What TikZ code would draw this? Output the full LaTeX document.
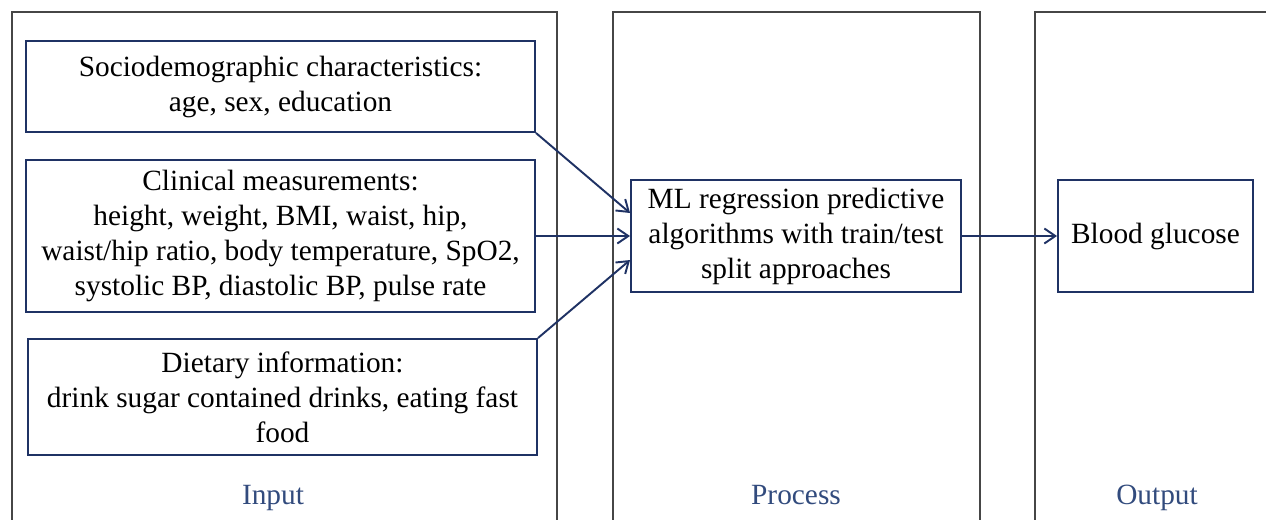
\documentclass[tikz,border=0pt]{standalone}
\usepackage{fontspec}
\setmainfont{Liberation Serif}
\usetikzlibrary{positioning, arrows.meta, calc}
\definecolor{boxblue}{RGB}{31, 50, 100}
\definecolor{labelblue}{RGB}{50, 75, 125}
\definecolor{panelgray}{RGB}{70, 70, 70}

\begin{document}
\begin{tikzpicture}[
    box/.style={draw=boxblue, line width=1.1pt, align=center, inner sep=0pt,
        font=\fontsize{16.7}{19.9}\selectfont},
    link/.style={draw=boxblue, line width=1.1pt, -{Straight Barb[length=2.2mm, width=3mm]}},
    panel/.style={draw=panelgray, line width=0.6pt},
    stage/.style={font=\fontsize{16.7}{19}\selectfont, text=labelblue, anchor=base}
]

                \useasboundingbox (0, 0) rectangle (25.32, -10.38);

                % columns
                \draw[panel] (0.24, -10.6) |- (11.14, -0.24) -- (11.14, -10.6);
                \draw[panel] (12.26, -10.6) |- (19.6, -0.24) -- (19.6, -10.6);
                \draw[panel] (20.7, -10.6) |- (25.6, -0.24);

                \node[stage] (input) at (5.46, -10.08) {Input};
                \node[stage] (process) at (15.92, -10.08) {Process};
                \node[stage] (output) at (23.14, -10.08) {Output};

                % input boxes
                \node[box, minimum width=10.18cm, minimum height=1.82cm]
                    (socio) at (5.61, -1.73)
                    {Sociodemographic characteristics:\\age, sex, education};
                \node[box, minimum width=10.18cm, minimum height=3.04cm]
                    (clinical) at (5.61, -4.72)
                    {Clinical measurements:\\height, weight, BMI, waist, hip,\\waist/hip ratio, body temperature, SpO2,\\systolic BP, diastolic BP, pulse rate};
                \node[box, minimum width=10.18cm, minimum height=2.32cm]
                    (diet) at (5.65, -7.94)
                    {Dietary information:\\drink sugar contained drinks, eating fast\\food};

                % process and output
                \node[box, minimum width=6.6cm, minimum height=2.24cm]
                    (ml) at (15.92, -4.72)
                    {ML regression predictive\\algorithms with train/test\\split approaches};
                \node[box, minimum width=3.9cm, minimum height=2.24cm]
                    (glucose) at (23.11, -4.72) {Blood glucose};

                \coordinate (mlup) at ($(ml.west)+(0, 0.46)$);
                \coordinate (mldown) at ($(ml.west)+(0, -0.48)$);

                \draw[link] (socio.south east) -- (mlup);
                \draw[link] (clinical.east) -- (ml.west);
                \draw[link] (diet.north east) -- (mldown);
                \draw[link] (ml.east) -- (glucose.west);

            \end{tikzpicture}
\end{document}
